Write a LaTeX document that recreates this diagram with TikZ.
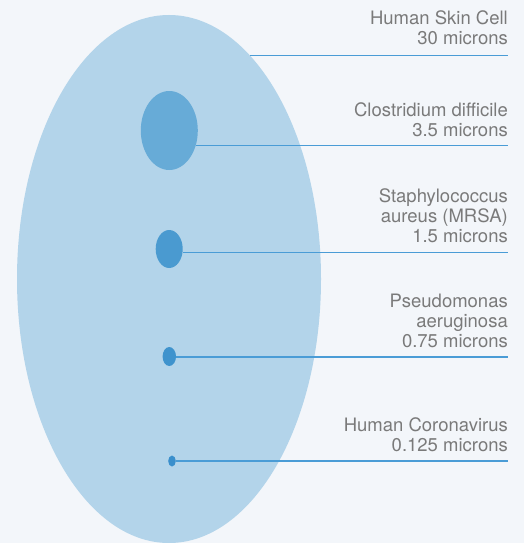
\documentclass[tikz,border=0pt]{standalone}
\usepackage{fontspec}
\setmainfont{TeX Gyre Heros}
\usepackage{tikz}
\usetikzlibrary{positioning,shapes.geometric}
\definecolor{bg}{HTML}{F3F6FA}
\definecolor{cellblue}{HTML}{B3D4EA}
\definecolor{closblue}{HTML}{67ABD7}
\definecolor{staphblue}{HTML}{4A9AD0}
\definecolor{pseublue}{HTML}{3F93CD}
\definecolor{corblue}{HTML}{3A8FCC}
\definecolor{lineblue}{HTML}{4A9CD6}
\definecolor{txtgray}{HTML}{7A7A7A}
\begin{document}
\begin{tikzpicture}[x=1pt,y=-1pt,
  blob/.style={ellipse,inner sep=0pt,draw=none},
  link/.style={lineblue,line width=1.4pt},
  lbl/.style={align=right,inner sep=0pt,text=txtgray,font=\fontsize{18.5}{20}\selectfont}]
  \useasboundingbox (0,0) rectangle (524,543);
  \fill[bg] (0,0) rectangle (524,543);
  \node[blob,fill=cellblue,minimum width=304pt,minimum height=528pt] (cell) at (169,279) {};
  \node[blob,fill=closblue,minimum width=57pt,minimum height=79pt] (clos) at (169.3,130.5) {};
  \node[blob,fill=staphblue,minimum width=27pt,minimum height=38pt] (staph) at (169.2,249) {};
  \node[blob,fill=pseublue,minimum width=13.4pt,minimum height=19pt] (pseu) at (169.3,356.5) {};
  \node[blob,fill=corblue,minimum width=7.6pt,minimum height=11pt] (corona) at (172,461) {};
  % line ends on the right
  \coordinate (e1) at (508,53.6);
  \coordinate (e2) at (508,145.7);
  \coordinate (e3) at (508,252.3);
  \coordinate (e4) at (508,357.2);
  \coordinate (e5) at (508,461);
  \draw[link] (cell.70.7) -- (cell.70.7 -| e1);
  \draw[link] (clos.-30) -- (clos.-30 -| e2);
  \draw[link] (staph.-14) -- (staph.-14 -| e3);
  \draw[link] (pseu.-5) -- (pseu.-5 -| e4);
  \draw[link] (corona.east) -- (e5);
  \node[lbl,above left=9pt and 0pt of e1] (skinlbl) {Human Skin Cell\\30 microns};
  \node[lbl,above left=9pt and 0pt of e2] (closlbl) {Clostridium difficile\\3.5 microns};
  \node[lbl,above left=9pt and 0pt of e3] (staphlbl) {Staphylococcus\\aureus (MRSA)\\1.5 microns};
  \node[lbl,above left=9pt and 0pt of e4] (pseulbl) {Pseudomonas\\aeruginosa\\0.75 microns};
  \node[lbl,above left=9pt and 0pt of e5] (corlbl) {Human Coronavirus\\0.125 microns};
\end{tikzpicture}
\end{document}
